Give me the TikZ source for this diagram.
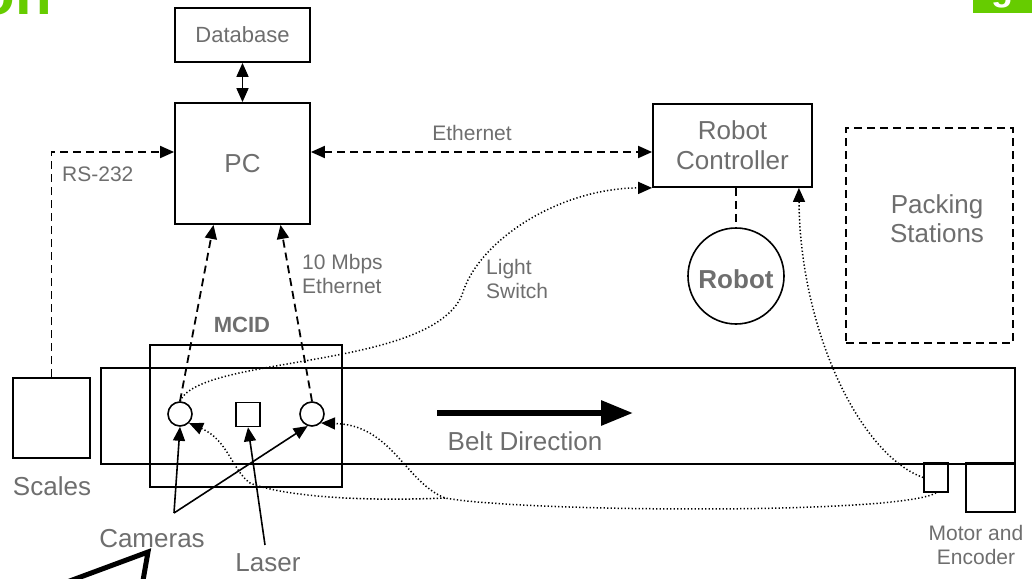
\documentclass[tikz,border=0pt]{standalone}
\usepackage{fontspec}
\setmainfont{Liberation Sans}
\usetikzlibrary{arrows.meta}
\definecolor{labelgray}{HTML}{6E6E6E}
\definecolor{slidegreen}{HTML}{66CC00}

\begin{document}
\begin{tikzpicture}[x=1pt,y=-1pt,
  tip/.tip={Triangle[length=14pt,width=12pt]},
  box/.style={draw, line width=1.8pt, inner sep=0pt, text=labelgray,
    font=\fontsize{26}{30}\selectfont, align=center},
  cam/.style={draw, circle, line width=1.6pt, minimum size=24pt, inner sep=0pt},
  biglbl/.style={text=labelgray, font=\fontsize{26}{29}\selectfont, align=center, inner sep=0pt},
  smalllbl/.style={text=labelgray, font=\fontsize{21}{24}\selectfont, align=left, inner sep=0pt},
  boldlbl/.style={text=labelgray, font=\bfseries\fontsize{22}{26}\selectfont, inner sep=0pt},
  dashline/.style={line width=1.8pt, dash pattern=on 8pt off 5pt},
  dotline/.style={line width=1.5pt, dash pattern=on 1.3pt off 2.2pt},
  solidarrow/.style={line width=1.6pt, -tip},
]
\useasboundingbox (0,0) rectangle (1032,578);
\clip (0,0) rectangle (1032,578);

% slide header fragments
\node[anchor=base east, text=slidegreen, font=\bfseries\fontsize{60}{60}\selectfont, inner sep=0pt] (heading) at (52,15) {on};
\fill[slidegreen] (973,-5) rectangle (1040,13);
\node[anchor=base, text=white, font=\bfseries\fontsize{36}{36}\selectfont, inner sep=0pt] (tab) at (1002,1) {g};

% boxes
\node[box, minimum width=135, minimum height=54] (db) at (242.5,35) {\fontsize{22}{26}\selectfont Database};
\node[box, minimum width=135, minimum height=121] (pc) at (242.5,163.5) {PC};
\node[box, minimum width=159, minimum height=83] (rc) at (732.5,145.5) {Robot\\Controller};
\node[draw, circle, line width=1.6pt, minimum size=96pt, inner sep=0pt] (robot) at (736,276) {};
\node[boldlbl, font=\bfseries\fontsize{26}{30}\selectfont] (robotlbl) at (736,279) {Robot};
\node[draw, line width=1.8pt, dash pattern=on 8pt off 5pt, minimum width=167, minimum height=215, inner sep=0pt] (pack) at (929.5,235.5) {};
\node[biglbl] (packlbl) at (937,219) {Packing\\Stations};

% conveyor, inspection cell and devices
\node[draw, line width=1.8pt, minimum width=914, minimum height=96, inner sep=0pt] (belt) at (558,416) {};
\node[draw, line width=1.6pt, minimum width=192, minimum height=142, inner sep=0pt] (mcid) at (246,416) {};
\node[boldlbl] (mcidlbl) at (242,325) {MCID};
\node[draw, line width=1.8pt, minimum width=77, minimum height=80, inner sep=0pt] (scales) at (51.5,418) {};
\node[biglbl] (scaleslbl) at (52,486) {Scales};
\node[cam] (cam1) at (180,414) {};
\node[cam] (cam2) at (312,414) {};
\node[draw, line width=1.6pt, minimum size=24pt, inner sep=0pt] (laser) at (248,414.5) {};
\node[draw, line width=1.6pt, minimum width=24, minimum height=29, inner sep=0pt] (mot) at (936,477.5) {};
\node[draw, line width=1.8pt, minimum width=49, minimum height=49, inner sep=0pt] (enc) at (990.5,487.5) {};
\node[smalllbl, align=center] (motlbl) at (976,545) {Motor and\\Encoder};

% belt direction
\coordinate (bdA) at (437,413);
\coordinate (bdB) at (633,413);
\draw[line width=6pt, -{Triangle[length=32pt,width=24pt]}] (bdA) -- (bdB);
\node[biglbl] (bdlbl) at (525,441) {Belt Direction};

% labels
\node[biglbl] (camlbl) at (152,539) {Cameras};
\node[biglbl] (laserlbl) at (268,563) {Laser};
\node[smalllbl, anchor=west] (rslbl) at (62,174) {RS-232};
\node[smalllbl] (ethlbl) at (472,133) {Ethernet};
\node[smalllbl, anchor=west] (tenlbl) at (302,274) {10 Mbps\\Ethernet};
\node[smalllbl, anchor=west] (lightlbl) at (486,279) {Light\\Switch};

% network links
\draw[line width=1.6pt, tip-tip] (db.south) -- (pc.north);
\draw[dashline, -tip] (scales.north) |- ([yshift=11.5pt]pc.west);
\draw[dashline, tip-tip] ([yshift=11.5pt]pc.east) -- ([yshift=11.5pt]pc.east -| rc.west);
\draw[dashline, -tip] (cam1.north) -- ([xshift=-29pt]pc.south);
\draw[dashline, -tip] (cam2.north) -- ([xshift=38pt]pc.south);
\draw[dashline] (robot.north |- rc.south) -- (robot.north);

% sensor signals
\draw[dotline, -tip] (cam1.north) .. controls (200,355) and (430,370) .. (462,295)
  .. controls (478,240) and (560,188) .. (rc.south west);
\draw[dotline, -tip] (mot.west) .. controls (860,455) and (800,330) .. ([xshift=-14pt]rc.south east);
\coordinate (jn) at (445,498);
\draw[dotline, -tip] (mot.south) .. controls (900,515) and (520,512) .. (jn)
  .. controls (405,482) and (392,425) .. (cam2.south east);
\draw[dotline, -tip] (jn) .. controls (350,502) and (280,495) .. (250,483)
  .. controls (232,470) and (228,440) .. (cam1.south east);

% callouts
\coordinate (cs) at (174,513);
\coordinate (ls) at (265,545);
\draw[solidarrow] (cs) -- (cam1.south);
\draw[solidarrow] (cs) -- (cam2.250);
\draw[solidarrow] (ls) -- (laser.south);

% speech-bubble fragment
\draw[line width=5pt, line join=miter] (40,592) -- (148,552) -- (141,592);
\end{tikzpicture}
\end{document}
